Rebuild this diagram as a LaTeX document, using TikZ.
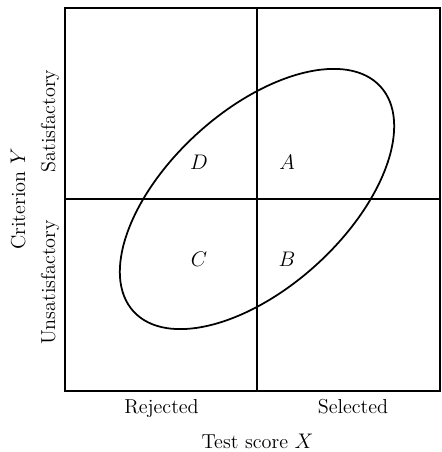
\documentclass[tikz,border=0pt]{standalone}
\usepackage{tikz}
\usetikzlibrary{calc}
\usepackage{amsmath}

\tikzset{
  frameline/.style={black, line width=1pt},
  axislabel/.style={font=\fontsize{11.5}{13}\selectfont, anchor=base},
  cellmark/.style={font=\fontsize{11.5}{13}\selectfont}
}

\begin{document}
\begin{tikzpicture}[x=0.02cm, y=0.02cm]

% ============================================================
% 画布（1 单位 = 参考图 1 像素）
% ============================================================
\useasboundingbox (0,0) rectangle (441,452);

% 外框与分割线
\coordinate (sw) at (65,61);
\coordinate (ne) at (440,444);
\coordinate (ctr) at (257,253);
\draw[frameline] (sw) rectangle (ne);
\draw[frameline] (ctr |- sw) -- (ctr |- ne);
\draw[frameline] (ctr -| sw) -- (ctr -| ne);

% 散点椭圆（斜向，中心在两线交点）
\draw[frameline, rotate around={42.3:(ctr)}]
  (ctr) ellipse [x radius=167, y radius=88.6];

% 四个区域
\node[cellmark] (cellD) at (199,290) {$D$};
\node[cellmark] (cellA) at (287,290) {$A$};
\node[cellmark] (cellC) at (199,193) {$C$};
\node[cellmark] (cellB) at (287,193) {$B$};

% 横轴标注
\node[axislabel] (rej) at (161.5,38) {Rejected};
\node[axislabel] (sel) at (353,38) {Selected};
\node[axislabel] (xlab) at (257.5,4) {Test score $X$};

% 纵轴标注
\node[axislabel, rotate=90] (sat) at (55,331) {Satisfactory};
\node[axislabel, rotate=90] (unsat) at (55,169.5) {Unsatisfactory};
\node[axislabel, rotate=90] (ylab) at (25,253) {Criterion $Y$};

\end{tikzpicture}
\end{document}
